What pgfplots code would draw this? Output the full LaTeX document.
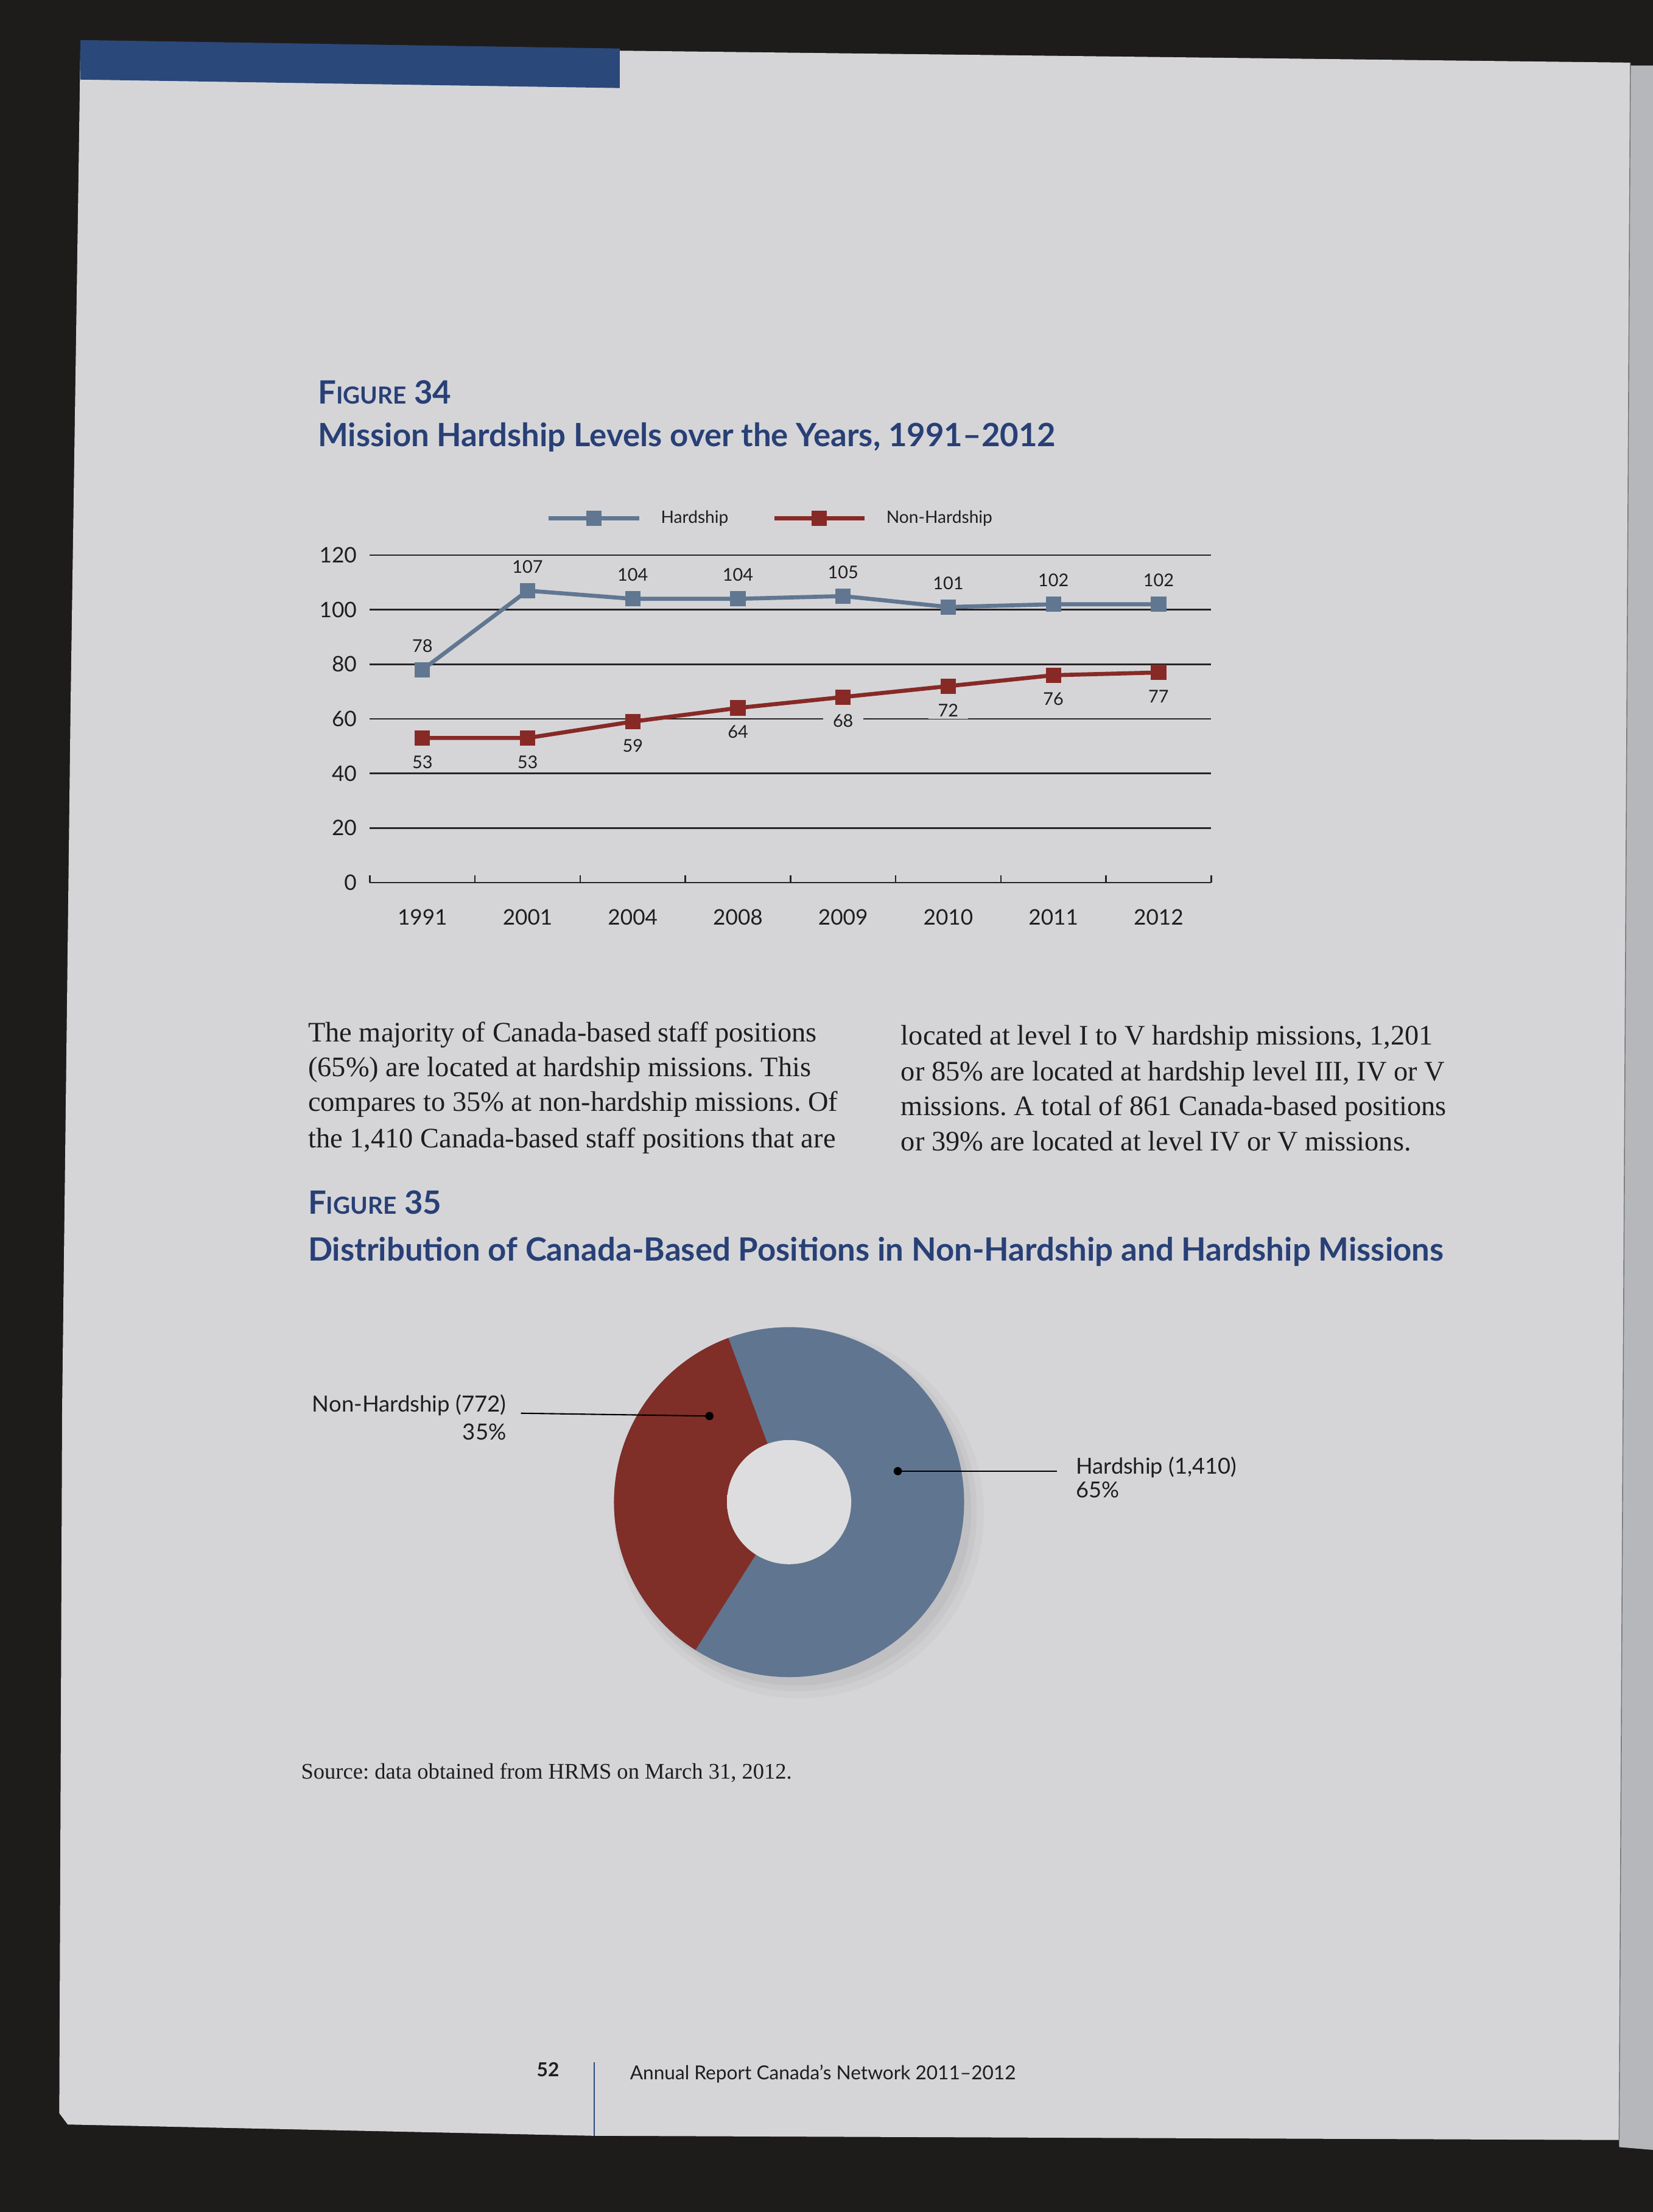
\documentclass[border=0pt]{standalone}
\usepackage{pgfplots}
\pgfplotsset{compat=1.18}
\usepackage{fontspec}
\setmainfont{Liberation Serif}
\newfontfamily\gill{Lato}
\newlength\pu \setlength\pu{0.023185cm}
\newlength\Ro \setlength\Ro{124\pu}
\newlength\Ri \setlength\Ri{44\pu}
\definecolor{bg}{RGB}{30,28,27}
\definecolor{page}{RGB}{213,213,216}
\definecolor{holec}{RGB}{221,221,223}
\definecolor{holeedge}{RGB}{192,189,187}
\definecolor{strip}{RGB}{182,183,187}
\definecolor{navy}{RGB}{42,72,122}
\definecolor{titleblue}{RGB}{40,64,118}
\definecolor{hblue}{RGB}{97,119,145}
\definecolor{nhred}{RGB}{135,42,38}
\definecolor{dblue}{RGB}{96,117,144}
\definecolor{dred}{RGB}{128,46,40}
\definecolor{gridc}{RGB}{40,36,36}
\definecolor{txt}{RGB}{30,30,32}
\pgfdeclareradialshading{holeshade}{\pgfpoint{0bp}{0bp}}{color(0bp)=(holec); color(36bp)=(holec); color(50bp)=(holeedge)}
\newcommand\body{\color{txt}\fontsize{13.2}{16}\selectfont\frenchspacing}
\newcommand\ttl{\gill\bfseries\color{titleblue}}
\pgfmathsetmacro{\nh}{772}
\pgfmathsetmacro{\hh}{1410}
\pgfmathsetmacro{\startA}{110.3}
\pgfmathsetmacro{\frac}{\nh/(\nh+\hh)}
\pgfmathsetmacro{\endA}{\startA+360*\frac}
\begin{document}
\begin{tikzpicture}[x=\pu,y=\pu]
% background and page
\fill[bg] (0,0) rectangle (1171,1567.4);
\fill[strip] (1155,1521) -- (1171,1521) -- (1171,44) -- (1147,46) -- cycle;
\fill[page] (57,1536) -- (1155,1523) -- (1147,51) -- (420,54) -- (48,62) -- (42,70) -- (44,568) -- (50,1068) -- cycle;
\draw[black!55, line width=0.4pt] (1155,1523) -- (1147,51);
\fill[navy] (57,1539) -- (439,1533) -- (439,1505) -- (57,1511) -- cycle;
% Figure 34 titles
\node[anchor=base west, inner sep=0pt] at (225,1281) {\ttl{\fontsize{15}{15}\selectfont F}{\fontsize{11}{11}\selectfont IGURE}{\fontsize{15}{15}\selectfont\ 34}};
\node[anchor=base west, inner sep=0pt] at (225,1251) {\ttl\fontsize{15}{16}\selectfont Mission Hardship Levels over the Years, 1991–2012};
% line chart
\begin{axis}[
  at={(262\pu,942\pu)}, anchor=south west,
  scale only axis, width=596\pu, height=232\pu,
  xmin=0, xmax=8, ymin=0, ymax=120,
  axis x line*=bottom, axis y line*=left,
  y axis line style={draw=none},
  x axis line style={draw=gridc, line width=0.7pt},
  xtick={0.5,1.5,...,7.5},
  xticklabels={1991,2001,2004,2008,2009,2010,2011,2012},
  minor xtick={0,1,...,8},
  major tick length=0pt, minor tick length=5\pu, tick align=inside,
  minor tick style={draw=gridc, line width=0.7pt},
  ytick={0,20,...,120}, ytick style={draw=none},
  ymajorgrids, grid style={draw=gridc, line width=0.7pt},
  /pgf/number format/assume math mode=true,
  xticklabel style={font=\gill\fontsize{10}{12}\selectfont, text=txt, anchor=base, yshift=-30\pu},
  yticklabel style={font=\gill\fontsize{10}{12}\selectfont, text=txt, anchor=east, inner sep=0pt, xshift=-9\pu},
  clip=false,
  legend columns=2,
  legend style={at={(0.2097,1.112)}, anchor=west, draw=none, fill=none, inner sep=0pt,
    font=\gill\fontsize{8}{10}\selectfont, text=txt,
    /tikz/every odd column/.append style={column sep=11\pu},
    /tikz/every even column/.append style={column sep=28\pu}},
  legend image code/.code={\draw[mark repeat=2, mark phase=2] plot coordinates {(0pt,0pt) (32\pu,0pt) (64\pu,0pt)};},
]
\addplot[color=hblue, line width=1.9pt, mark=square*, mark size=4\pu, mark options={solid, fill=hblue},
  nodes near coords, nodes near coords align=center,
  every node near coord/.append style={font=\gill\fontsize{8.2}{10}\selectfont, text=txt, yshift=17\pu}]
  coordinates {(0.5,78) (1.5,107) (2.5,104) (3.5,104) (4.5,105) (5.5,101) (6.5,102) (7.5,102)};
\addlegendentry{Hardship}
\addplot[color=nhred, line width=1.9pt, mark=square*, mark size=4\pu, mark options={solid, fill=nhred},
  nodes near coords, nodes near coords align=center,
  every node near coord/.append style={font=\gill\fontsize{8.2}{10}\selectfont, text=txt, yshift=-17\pu, fill=page, inner xsep=7\pu, inner ysep=1pt}]
  coordinates {(0.5,53) (1.5,53) (2.5,59) (3.5,64) (4.5,68) (5.5,72) (6.5,76) (7.5,77)};
\addlegendentry{Non-Hardship}
\end{axis}
% body text
\node[anchor=base west, inner sep=0pt] at (218,829) {\body The majority of Canada-based staff positions};
\node[anchor=base west, inner sep=0pt] at (218,804.5) {\body (65\%) are located at hardship missions. This};
\node[anchor=base west, inner sep=0pt] at (218,780) {\body compares to 35\% at non-hardship missions. Of};
\node[anchor=base west, inner sep=0pt] at (218,754) {\body the 1,410 Canada-based staff positions that are};
\node[anchor=base west, inner sep=0pt] at (638,827) {\body located at level I to V hardship missions, 1,201};
\node[anchor=base west, inner sep=0pt] at (638,801.5) {\body or 85\% are located at hardship level III, IV or V};
\node[anchor=base west, inner sep=0pt] at (638,777) {\body missions. A total of 861 Canada-based positions};
\node[anchor=base west, inner sep=0pt] at (638,752) {\body or 39\% are located at level IV or V missions.};
% Figure 35 titles
\node[anchor=base west, inner sep=0pt] at (218,707) {\ttl{\fontsize{15}{15}\selectfont F}{\fontsize{11}{11}\selectfont IGURE}{\fontsize{15}{15}\selectfont\ 35}};
\node[anchor=base west, inner sep=0pt] at (218,674) {\ttl\fontsize{15}{16}\selectfont Distribution of Canada-Based Positions in Non-Hardship and Hardship Missions};
% donut chart
\begin{axis}[at={(559\pu,503\pu)}, anchor=center, scale only axis, width=248\pu, height=248\pu,
  xmin=-1, xmax=1, ymin=-1, ymax=1, hide axis, clip=false]
\fill[black, opacity=0.025] ([shift={(7\pu,-8\pu)}]axis cs:0,0) circle[radius=\Ro+7\pu];
\fill[black, opacity=0.03] ([shift={(6\pu,-7\pu)}]axis cs:0,0) circle[radius=\Ro+3\pu];
\fill[black, opacity=0.04] ([shift={(5\pu,-6\pu)}]axis cs:0,0) circle[radius=\Ro];
\fill[dblue] (axis cs:0,0) circle[radius=\Ro];
\fill[dred] (axis cs:0,0) -- ++(\startA:\Ro) arc[start angle=\startA, end angle=\endA, radius=\Ro] -- cycle;
\shade[shading=holeshade] (axis cs:0,0) circle[radius=\Ri];
\draw[black, line width=0.6pt] (axis cs:-0.455,0.492) -- (axis cs:-1.532,0.508);
\draw[black, line width=0.6pt] (axis cs:0.621,0.177) -- (axis cs:1.532,0.177);
\addplot[only marks, mark=*, mark size=2.6\pu, black] coordinates {(-0.455,0.492) (0.621,0.177)};
\end{axis}
\node[anchor=base east, inner sep=0pt, font=\gill\fontsize{10.4}{12}\selectfont, text=txt] at (359,567) {Non-Hardship (772)};
\node[anchor=base east, inner sep=0pt, font=\gill\fontsize{10.4}{12}\selectfont, text=txt] at (359,547) {35\%};
\node[anchor=base west, inner sep=0pt, font=\gill\fontsize{10.3}{12}\selectfont, text=txt] at (762,523) {Hardship (1,410)};
\node[anchor=base west, inner sep=0pt, font=\gill\fontsize{10.3}{12}\selectfont, text=txt] at (762,506) {65\%};
% source
\node[anchor=base west, inner sep=0pt] at (213,307) {\color{txt}\fontsize{10.4}{12}\selectfont\frenchspacing Source: data obtained from HRMS on March 31, 2012.};
% footer
\node[anchor=base west, inner sep=0pt, font=\gill\bfseries\fontsize{9}{10}\selectfont, text=txt] at (380,96) {52};
\draw[navy, line width=0.5pt] (421,106) -- (421,54);
\node[anchor=base west, inner sep=0pt, font=\gill\fontsize{9}{10}\selectfont, text=txt] at (446,94) {Annual Report Canada’s Network 2011–2012};
\end{tikzpicture}
\end{document}
